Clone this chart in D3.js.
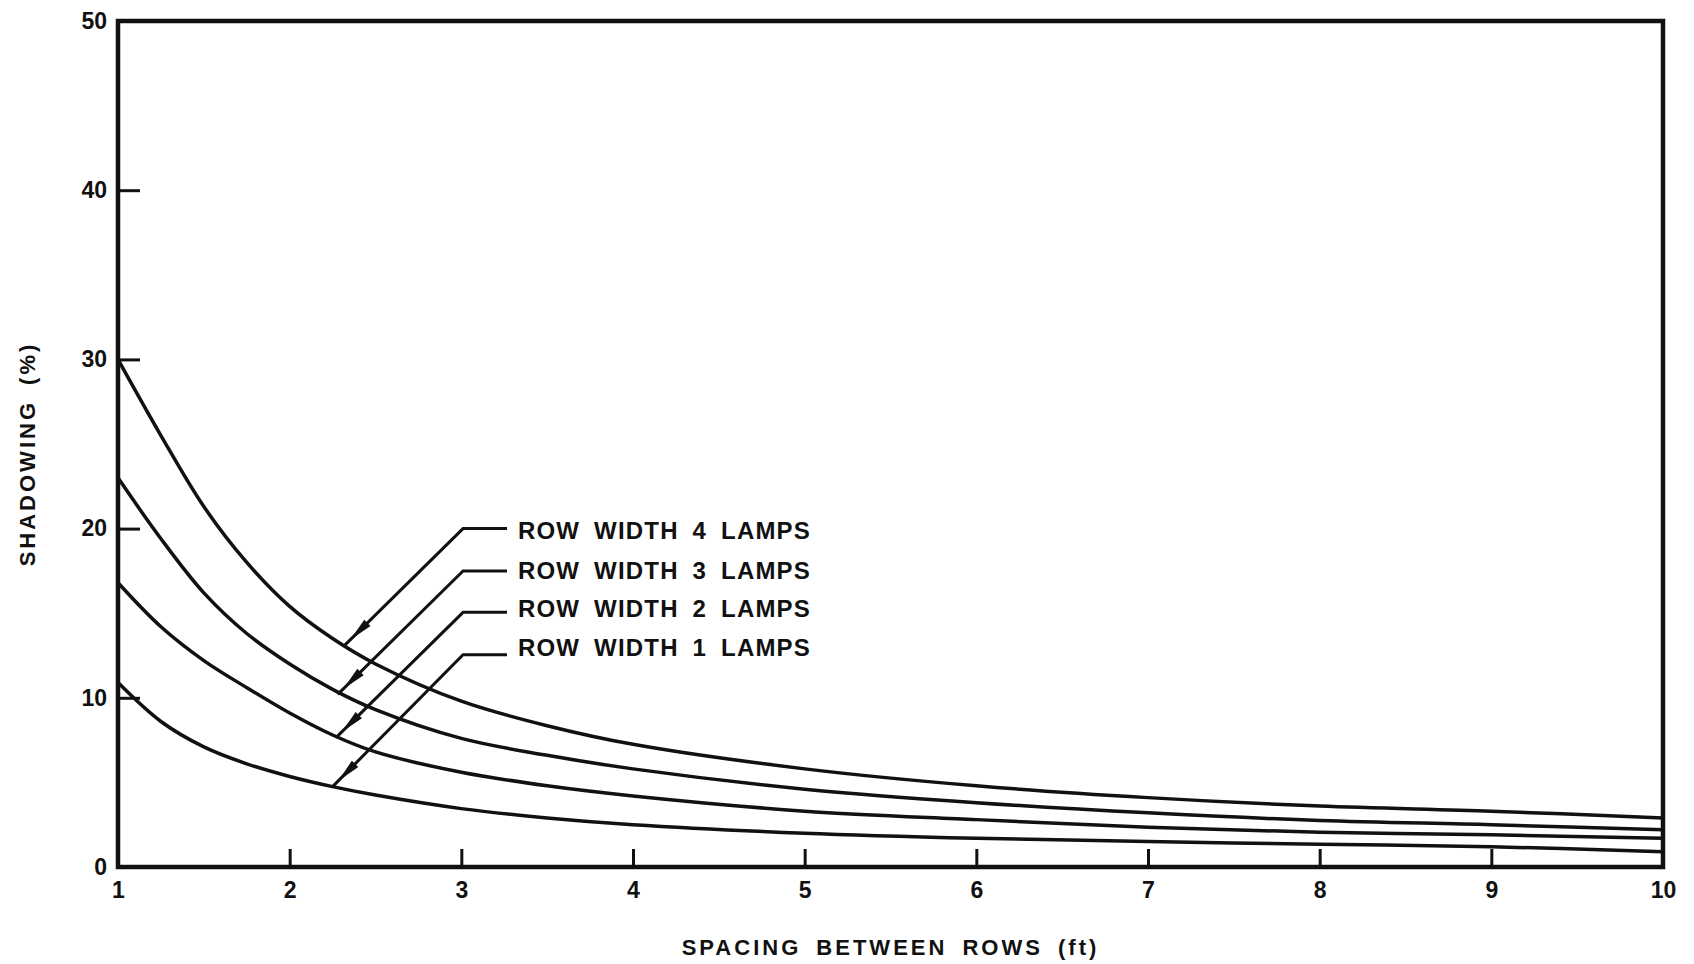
<!DOCTYPE html>
<html>
<head>
<meta charset="utf-8">
<script src="https://cdn.jsdelivr.net/npm/d3@7"></script>
<style>
  body { margin: 0; background: #fff; }
  text { font-family: "Liberation Sans", Arial, sans-serif; font-weight: bold; fill: #111; }
</style>
</head>
<body>
<svg id="chart" width="1694" height="964"></svg>
<script>
// values
const spacing = [1, 1.25, 1.5, 1.75, 2, 2.25, 2.5, 3, 3.5, 4, 5, 6, 7, 8, 9, 10];
const lamps4 = [30, 25.5, 21.3, 18.0, 15.4, 13.5, 12.0, 9.8, 8.35, 7.25, 5.8, 4.8, 4.1, 3.6, 3.3, 2.9];
const lamps3 = [23, 19.4, 16.2, 13.8, 12.0, 10.5, 9.3, 7.6, 6.6, 5.8, 4.6, 3.8, 3.2, 2.75, 2.5, 2.2];
const lamps2 = [16.8, 14.2, 12.2, 10.6, 9.1, 7.8, 6.8, 5.6, 4.8, 4.2, 3.3, 2.8, 2.35, 2.05, 1.9, 1.7];
const lamps1 = [10.9, 8.6, 7.1, 6.1, 5.35, 4.75, 4.25, 3.45, 2.9, 2.5, 2.0, 1.7, 1.5, 1.35, 1.2, 0.9];

const xTicks = [1, 2, 3, 4, 5, 6, 7, 8, 9, 10];
const yTicks = [0, 10, 20, 30, 40, 50];

// annotation: label, where the arrow hits the curve, elbow height and text baseline
const labels = ["ROW WIDTH 4 LAMPS", "ROW WIDTH 3 LAMPS", "ROW WIDTH 2 LAMPS", "ROW WIDTH 1 LAMPS"];
const tipX = [2.32, 2.28, 2.27, 2.25];
const tipY = [13.1, 10.2, 7.65, 4.75];
const elbowY = [20.0, 17.5, 15.05, 12.55];
const textY = [19.4, 17.0, 14.75, 12.5];
const elbowX = 3.01, leaderEndX = 3.266, labelX = 3.33;

let svg = d3.select("#chart");
let margin = { top: 21, right: 31, bottom: 97, left: 118 };
let plotWidth = 1694 - margin.left - margin.right;
let plotHeight = 964 - margin.top - margin.bottom;

let xScale = d3.scaleLinear().domain([1, 10]).range([0, plotWidth]);
let yScale = d3.scaleLinear().domain([0, 50]).range([plotHeight, 0]);

let plot = svg.append("g")
  .attr("transform", "translate(" + margin.left + "," + margin.top + ")");

// axes: ticks point into the plot
let xAxis = d3.axisBottom(xScale).tickValues(xTicks).tickSize(-18).tickPadding(15)
  .tickFormat(d3.format("d"));
let yAxis = d3.axisLeft(yScale).tickValues(yTicks).tickSize(-22).tickPadding(11)
  .tickFormat(d3.format("d"));

let xGroup = plot.append("g").attr("transform", "translate(0," + plotHeight + ")").call(xAxis);
let yGroup = plot.append("g").call(yAxis);

[xGroup, yGroup].forEach(g => {
  g.select(".domain").remove();
  g.selectAll(".tick line").attr("stroke", "#111").attr("stroke-width", 3);
  g.selectAll(".tick text").style("font-size", "23px").attr("fill", "#111");
});

// frame
plot.append("rect")
  .attr("x", 0).attr("y", 0)
  .attr("width", plotWidth).attr("height", plotHeight)
  .attr("fill", "none")
  .attr("stroke", "#111")
  .attr("stroke-width", 4.5);

// curves
let line = d3.line()
  .x((d, i) => xScale(spacing[i]))
  .y(d => yScale(d))
  .curve(d3.curveCatmullRom.alpha(0.5));

[lamps4, lamps3, lamps2, lamps1].forEach(series => {
  plot.append("path")
    .attr("d", line(series))
    .attr("fill", "none")
    .attr("stroke", "#111")
    .attr("stroke-width", 3.5);
});

// arrow head, sitting a little back from the end of the leader
svg.append("defs").append("marker")
  .attr("id", "arrow")
  .attr("viewBox", "0 0 24 10")
  .attr("refX", 32).attr("refY", 5)
  .attr("markerWidth", 24).attr("markerHeight", 10)
  .attr("markerUnits", "userSpaceOnUse")
  .attr("orient", "auto")
  .style("overflow", "visible")
  .append("path")
  .attr("d", "M0,0.5 L24,5 L0,9.5 Z")
  .attr("fill", "#111");

labels.forEach((label, i) => {
  plot.append("polyline")
    .attr("points", [
      [xScale(leaderEndX), yScale(elbowY[i])],
      [xScale(elbowX), yScale(elbowY[i])],
      [xScale(tipX[i]), yScale(tipY[i])]
    ].map(p => p.join(",")).join(" "))
    .attr("fill", "none")
    .attr("stroke", "#111")
    .attr("stroke-width", 3)
    .attr("marker-end", "url(#arrow)");

  plot.append("text")
    .attr("x", xScale(labelX))
    .attr("y", yScale(textY[i]))
    .style("font-size", "24px")
    .style("letter-spacing", "1.2px")
    .style("word-spacing", "6px")
    .text(label);
});

// axis titles
svg.append("text")
  .attr("x", margin.left + plotWidth / 2)
  .attr("y", 955)
  .attr("text-anchor", "middle")
  .style("font-size", "22px")
  .style("letter-spacing", "3px")
  .style("word-spacing", "6px")
  .text("SPACING BETWEEN ROWS (ft)");

svg.append("text")
  .attr("transform", "translate(35," + 454 + ") rotate(-90)")
  .attr("text-anchor", "middle")
  .style("font-size", "22px")
  .style("letter-spacing", "3px")
  .style("word-spacing", "6px")
  .text("SHADOWING (%)");
</script>
</body>
</html>
